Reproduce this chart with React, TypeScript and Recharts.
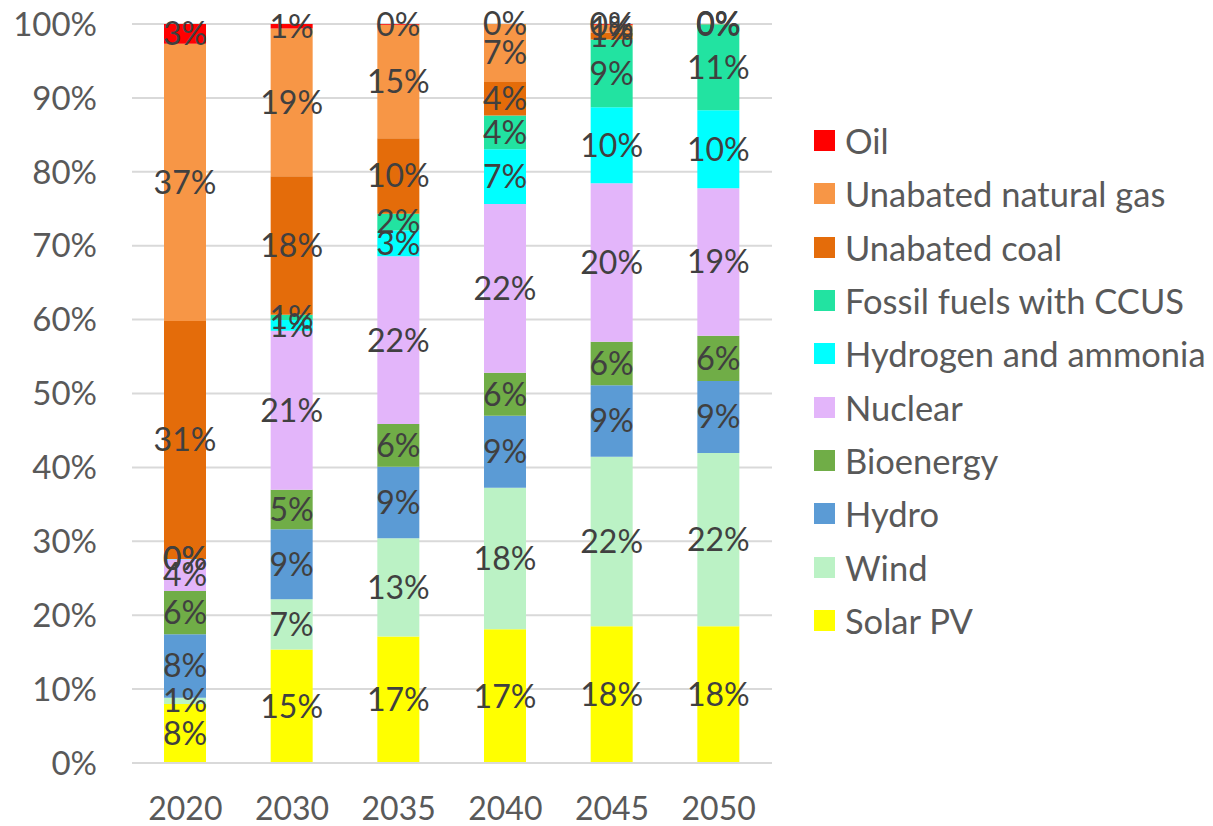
import { BarChart, Bar, XAxis, YAxis, CartesianGrid, LabelList } from 'recharts';

const YEARS = ['2020', '2030', '2035', '2040', '2045', '2050'];

// shares (%) per year, as labelled; the chart itself is normalised to 100%
// (0.01 stands for "nearly nothing" so the 0% labels still get drawn)
const SOLAR = [7.8, 14.9, 16.6, 17.1, 17.6, 17.5];
const WIND = [0.8, 6.6, 12.9, 18.1, 21.8, 22.2];
const HYDRO = [8.4, 9.2, 9.4, 9.2, 9.2, 9.2];
const BIOENERGY = [5.7, 5.2, 5.6, 5.5, 5.6, 5.8];
const NUCLEAR = [4.2, 20.9, 22.0, 21.6, 20.4, 18.9];
const HYDROGEN = [0.01, 1.4, 3.4, 7.0, 9.8, 10.0];
const CCUS = [0.01, 0.7, 2.2, 4.3, 8.7, 11.0];
const COAL = [31.4, 18.2, 9.9, 4.3, 0.9, 0.01];
const GAS = [36.6, 19.4, 14.9, 7.4, 1.0, 0.01];
const OIL = [2.6, 0.6, 0.1, 0.01, 0.1, 0.01];

const Y_TICKS = [0, 0.1, 0.2, 0.3, 0.4, 0.5, 0.6, 0.7, 0.8, 0.9, 1];

// bottom to top stacking order
const SERIES = [
  { key: 'solar', name: 'Solar PV', values: SOLAR, color: '#FFFF00' },
  { key: 'wind', name: 'Wind', values: WIND, color: '#BBF2C5' },
  { key: 'hydro', name: 'Hydro', values: HYDRO, color: '#5B9BD5' },
  { key: 'bio', name: 'Bioenergy', values: BIOENERGY, color: '#70AD47' },
  { key: 'nuclear', name: 'Nuclear', values: NUCLEAR, color: '#E3B5FA' },
  { key: 'hydrogen', name: 'Hydrogen and ammonia', values: HYDROGEN, color: '#00FFFF' },
  { key: 'ccus', name: 'Fossil fuels with CCUS', values: CCUS, color: '#22E3A1' },
  { key: 'coal', name: 'Unabated coal', values: COAL, color: '#E46C0A' },
  { key: 'gas', name: 'Unabated natural gas', values: GAS, color: '#F79646' },
  { key: 'oil', name: 'Oil', values: OIL, color: '#FF0000' },
];

const data = YEARS.map((year, i) => {
  const row: Record<string, string | number> = { year };
  SERIES.forEach((s) => { row[s.key] = s.values[i]; });
  return row;
});

const FONT = 'Lato, "Open Sans", sans-serif';

export default function App() {
  return (
    <div style={{ position: 'absolute', left: 0, top: 0, width: 1213, height: 826, background: '#fff', fontFamily: FONT }}>
      <BarChart
        width={1213}
        height={826}
        data={data}
        stackOffset="expand"
        barSize={42}
        margin={{ top: 24, right: 441, bottom: 13, left: 0 }}
      >
        <CartesianGrid vertical={false} stroke="#D9D9D9" strokeWidth={2} />
        <XAxis
          dataKey="year"
          height={50}
          tickLine={false}
          axisLine={{ stroke: '#D9D9D9', strokeWidth: 2 }}
          tickSize={6}
          tickMargin={28}
          tick={{ fontSize: 32, fill: '#595959', fontFamily: FONT }}
        />
        <YAxis
          width={132}
          domain={[0, 1]}
          ticks={Y_TICKS}
          tickFormatter={(v: number) => `${Math.round(v * 100)}%`}
          tickLine={false}
          axisLine={false}
          tickSize={6}
          tickMargin={29}
          tick={{ fontSize: 33, fill: '#595959', fontFamily: FONT }}
        />
        {SERIES.map((s) => (
          <Bar key={s.key} dataKey={s.key} name={s.name} stackId="a" fill={s.color} isAnimationActive={false}>
            <LabelList
              dataKey={s.key}
              position="center"
              fill="#404040"
              fontSize={32}
              fontFamily={FONT}
              formatter={(v: any) => `${Math.round(Number(v))}%`}
            />
          </Bar>
        ))}
      </BarChart>
      <div style={{ position: 'absolute', left: 814, top: 114 }}>
        {[...SERIES].reverse().map((s) => (
          <div key={s.key} style={{ display: 'flex', alignItems: 'center', height: 53.3 }}>
            <span style={{ width: 21, height: 21, background: s.color, display: 'inline-block', flexShrink: 0 }} />
            <span style={{ marginLeft: 10, fontSize: 34.5, color: '#595959', whiteSpace: 'nowrap' }}>{s.name}</span>
          </div>
        ))}
      </div>
    </div>
  );
}
